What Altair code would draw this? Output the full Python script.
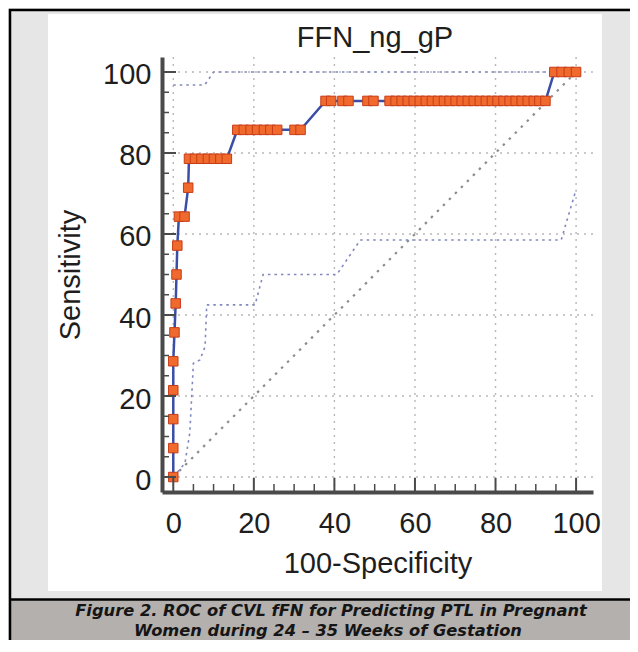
import altair as alt
import pandas as pd

# ---------------- data ----------------
roc_fpr = [0, 0, 0, 0, 0, 0.3, 0.6, 0.8, 1.0, 1.4, 2.8, 3.7,
           3.9, 5.4, 7.0, 8.6, 10.1, 11.7, 13.3,
           15.9, 17.5, 19.2, 20.8, 22.5, 24.1, 25.8, 30.1, 31.6,
           37.8, 39.2, 42.0, 43.5, 48.2, 49.7,
           53.7, 55.2, 56.7, 58.2, 59.7, 61.2, 62.7, 64.2, 65.7, 67.2, 68.6,
           70.1, 71.6, 73.1, 74.6, 76.1, 77.6, 79.1, 80.5, 82.0, 83.5, 85.0,
           86.5, 88.0, 89.5, 90.9, 92.4,
           94.6, 96.4, 98.2, 100.0]
roc_sens = [0, 7.14, 14.29, 21.43, 28.57, 35.71, 42.86, 50.0, 57.14, 64.29, 64.29, 71.43,
            78.57, 78.57, 78.57, 78.57, 78.57, 78.57, 78.57,
            85.71, 85.71, 85.71, 85.71, 85.71, 85.71, 85.71, 85.71, 85.71,
            92.86, 92.86, 92.86, 92.86, 92.86, 92.86,
            92.86, 92.86, 92.86, 92.86, 92.86, 92.86, 92.86, 92.86, 92.86, 92.86, 92.86,
            92.86, 92.86, 92.86, 92.86, 92.86, 92.86, 92.86, 92.86, 92.86, 92.86, 92.86,
            92.86, 92.86, 92.86, 92.86, 92.86,
            100, 100, 100, 100]

upper_fpr = [0, 7.8, 10.0, 100]
upper_sens = [96.8, 96.8, 100, 100]

lower_fpr = [0, 2.9, 4.1, 5.0, 6.6, 7.9, 8.3, 20.3, 22.3, 40.6, 46.4, 96.3, 100]
lower_sens = [0, 3.4, 10.9, 28.1, 28.9, 32.2, 42.5, 42.5, 50.0, 50.0, 58.5, 58.5, 71.0]

diag_vals = [0, 100]

major_ticks = [0, 20, 40, 60, 80, 100]
minor_ticks = [5, 10, 15, 25, 30, 35, 45, 50, 55, 65, 70, 75, 85, 90, 95]

chart_title = "FFN_ng_gP"
x_title = "100-Specificity"
y_title = "Sensitivity"
caption_1 = "Figure 2. ROC of CVL fFN for Predicting PTL in Pregnant"
caption_2 = "Women during 24 \u2013 35 Weeks of Gestation"

# ---------------- layout / style ----------------
W, H = 431, 435
FONT = "Liberation Sans"
FS = 29
AXC = "#4a4a4a"
TXT = "#1e1e1e"
FAR = 520   # beyond the right / bottom edge of the drawing (plot px)

xs = alt.Scale(domain=[-2.8, 104.2], nice=False, zero=False)
ys = alt.Scale(domain=[-3.7, 103.7], nice=False, zero=False)

AX_X = alt.Axis(values=major_ticks, grid=False, ticks=False, tickSize=0,
                domain=True, domainColor=AXC, domainWidth=4,
                labelFont=FONT, labelFontSize=FS, labelColor=TXT, labelPadding=17,
                labelFlush=False, labelOverlap=False,
                title=x_title, titleFont=FONT, titleFontSize=FS, titleFontWeight="normal",
                titleColor=TXT, titleBaseline="alphabetic", titleY=80, zindex=1)
AX_Y = alt.Axis(values=major_ticks, grid=False, ticks=False, tickSize=0,
                domain=True, domainColor=AXC, domainWidth=4,
                labelFont=FONT, labelFontSize=FS, labelColor=TXT, labelPadding=11,
                labelOffset=3, labelFlush=False, labelOverlap=False,
                title=y_title, titleFont=FONT, titleFontSize=FS, titleFontWeight="normal",
                titleColor=TXT, titleBaseline="alphabetic", titleX=-83, titleY=H / 2,
                zindex=1)

def X(f="x"):
    return alt.X(f + ":Q", scale=xs, axis=AX_X)

def Y(f="y"):
    return alt.Y(f + ":Q", scale=ys, axis=AX_Y)

one = pd.DataFrame({"k": [0]})

panel = alt.Chart(one).mark_rect(fill="white").encode(
    x=alt.value(-114), x2=alt.value(440), y=alt.value(-43), y2=alt.value(534))
capbox = alt.Chart(one).mark_rect(fill="#b3b0ae").encode(
    x=alt.value(-153), x2=alt.value(FAR), y=alt.value(542), y2=alt.value(FAR + 200))
border_top = alt.Chart(one).mark_rule(color="black", strokeWidth=2.5).encode(
    x=alt.value(-153), x2=alt.value(FAR), y=alt.value(-47))
border_left = alt.Chart(one).mark_rule(color="black", strokeWidth=2.5).encode(
    x=alt.value(-152), y=alt.value(-48), y2=alt.value(FAR + 200))
border_cap = alt.Chart(one).mark_rule(color="black", strokeWidth=2.5).encode(
    x=alt.value(-153), x2=alt.value(FAR), y=alt.value(542.5))

grid_df = pd.DataFrame({"x": major_ticks, "y": major_ticks})
vgrid = alt.Chart(grid_df).mark_rule(color="#b8b8b8", strokeWidth=1.4, strokeDash=[2, 5]).encode(x=X())
hgrid = alt.Chart(grid_df).mark_rule(color="#b8b8b8", strokeWidth=1.4, strokeDash=[2, 5]).encode(y=Y())

diag_df = pd.DataFrame({"x": diag_vals, "y": diag_vals})
diag = alt.Chart(diag_df).mark_line(color="#8c8c8c", strokeWidth=2.2, strokeDash=[2.5, 6]).encode(x=X(), y=Y())

up_df = pd.DataFrame({"x": upper_fpr, "y": upper_sens, "i": range(len(upper_fpr))})
lo_df = pd.DataFrame({"x": lower_fpr, "y": lower_sens, "i": range(len(lower_fpr))})
band_style = dict(color="#8088bd", strokeWidth=1.6, strokeDash=[2.5, 4])
upper = alt.Chart(up_df).mark_line(**band_style).encode(x=X(), y=Y(), order="i:Q")
lower = alt.Chart(lo_df).mark_line(**band_style).encode(x=X(), y=Y(), order="i:Q")

roc_df = pd.DataFrame({"x": roc_fpr, "y": roc_sens, "i": range(len(roc_fpr))})
roc_line = alt.Chart(roc_df).mark_line(color="#3b4ea6", strokeWidth=2.5).encode(x=X(), y=Y(), order="i:Q")
roc_pts = alt.Chart(roc_df).mark_square(size=90, fill="#ef6a2c", stroke="#c83c18",
                                        strokeWidth=1, opacity=1).encode(x=X(), y=Y())

maj_df = pd.DataFrame({"x": major_ticks, "y": major_ticks})
min_df = pd.DataFrame({"x": minor_ticks, "y": minor_ticks})
xt_major = alt.Chart(maj_df).mark_rule(color=AXC, strokeWidth=2).encode(
    x=X(), y=alt.value(H), y2=alt.value(H - 14))
xt_minor = alt.Chart(min_df).mark_rule(color=AXC, strokeWidth=1.5).encode(
    x=X(), y=alt.value(H), y2=alt.value(H - 8))
yt_major = alt.Chart(maj_df).mark_rule(color=AXC, strokeWidth=2).encode(
    y=Y(), x=alt.value(0), x2=alt.value(14))
yt_minor = alt.Chart(min_df).mark_rule(color=AXC, strokeWidth=1.5).encode(
    y=Y(), x=alt.value(0), x2=alt.value(7))

title_df = pd.DataFrame({"t": [chart_title]})
title = alt.Chart(title_df).mark_text(font=FONT, fontSize=FS, color=TXT, align="center",
                                      baseline="alphabetic").encode(
    text="t:N", x=alt.value(213), y=alt.value(-10))

cap_style = dict(font="DejaVu Sans", fontSize=16.3, fontWeight="bold", fontStyle="italic",
                 color="#151515", align="center", baseline="alphabetic")
cap1 = alt.Chart(pd.DataFrame({"t": [caption_1]})).mark_text(**cap_style).encode(
    text="t:N", x=alt.value(169), y=alt.value(559.3))
cap2 = alt.Chart(pd.DataFrame({"t": [caption_2]})).mark_text(**cap_style).encode(
    text="t:N", x=alt.value(166), y=alt.value(578.5))

chart = alt.layer(
    panel, capbox, border_top, border_left, border_cap,
    vgrid, hgrid, diag, upper, lower, roc_line, roc_pts,
    xt_major, xt_minor, yt_major, yt_minor, title, cap1, cap2
).properties(
    width=W, height=H,
    padding={"left": 154, "top": 49, "right": 37, "bottom": 148},
    autosize=alt.AutoSizeParams(type="none"),
    background="#e6e6e6",
).configure_view(strokeWidth=0)

chart.save("out.html", embed_options={"renderer": "svg", "actions": False})
